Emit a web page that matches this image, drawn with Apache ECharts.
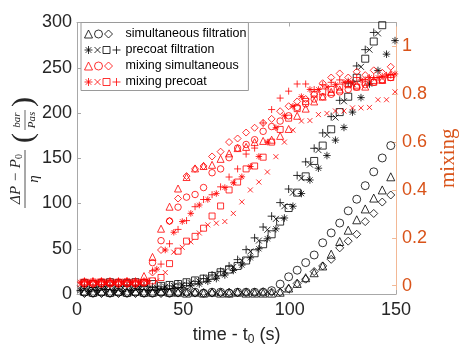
<!DOCTYPE html>
<html>
<head>
<meta charset="utf-8">
<script src="https://cdn.jsdelivr.net/npm/echarts@6/dist/echarts.min.js"></script>
<style>
  html, body { margin: 0; padding: 0; background: #fff; }
  #chart { width: 467px; height: 351px; }
</style>
</head>
<body>
<div id="chart"></div>
<script>
// Sampling times (s) of the two acquisition clocks
const tA = [3.5, 7.5, 11.5, 15.5, 19.5, 23.5, 27.5, 31.5, 35.5, 39.5, 43.5, 47.5, 51.5, 55.5, 59.5,
  63.5, 67.5, 71.5, 75.5, 79.5, 83.5, 87.5, 91.5, 95.5, 99.5, 103.5, 107.5, 111.5, 115.5, 119.5,
  123.5, 127.5, 131.5, 135.5, 139.5, 143.5, 147.5];
const tB = [1.5, 5.5, 9.5, 13.5, 17.5, 21.5, 25.5, 29.5, 33.5, 37.5, 41.5, 45.5, 49.5, 53.5, 57.5,
  61.5, 65.5, 69.5, 73.5, 77.5, 81.5, 85.5, 89.5, 93.5, 97.5, 101.5, 105.5, 109.5, 113.5, 117.5,
  121.5, 125.5, 129.5, 133.5, 137.5, 141.5, 145.5, 149.5];

// Pressure rise (bar/Pas), simultaneous filtration runs (on tA)
const simTri = [3, 2, 3, 2, 3, 2, 3, 2, 2, 3, 2, 2, 1, 2, 1, 2, 1, 1, 2, 1, 1, 1, 1, 2,
  6.6, 11.7, 18, 23.5, 31, 44, 58, 70.5, 82, 94, 106, 115, 129.5];
const simCirc = [2, 1, 2, 1, 2, 1, 2, 1, 1, 2, 1, 2, 2, 2, 1, 2, 2, 1, 2, 2, 2, 2, 3.7, 10.9,
  19, 26.3, 34.7, 43.1, 56.6, 67.5, 78.4, 91.9, 104.7, 119.7, 135, 150.3, 164];
const simDiam = [0.5, 1, 0.5, 1, 0.5, 1, 0.5, 1, 1, 0.5, 1, 1, 1.5, 1, 1.5, 1, 1.5, 2, 1.5, 2,
  2, 2.5, 2, 2, 5.5, 11.7, 16.4, 24.8, 31, 38.3, 51, 58.4, 66, 80, 89, 101.6, 109.4];

// Pressure rise (bar/Pas), precoat filtration runs
const preSq = [12, 11, 12, 13, 12, 12, 13, 12, 11, 9, 10, 11, 13, 15, 17, 20, 24, 27, 31, 37,
  45, 55, 66, 80, 95, 112, 130, 147, 164, 182, 201, 218, 239, 260, 279, 297];             // tA
const prePlus = [8, 7, 8, 9, 8, 9, 8, 9, 8, 8, 9, 11, 12, 14, 17, 21, 25, 31, 38, 49, 62, 74,
  86, 101, 116, 131, 146, 161, 178, 196, 214, 233, 252, 270, 289];                          // tA
const preX = [6, 5, 6, 7, 6, 7, 6, 7, 6, 7, 8, 9, 10, 12, 14, 17, 21, 25, 30, 37, 47, 59, 71,
  83, 97, 112, 128, 143, 159, 176, 195, 213, 232, 251, 270, 288];                           // tB
const preStar = [4, 3, 4, 5, 4, 3, 4, 5, 4, 4, 5, 6, 7, 9, 11, 14, 17, 21, 26, 32, 40, 50, 61,
  72, 84, 97, 111, 126, 139, 153, 170, 184, 201, 217, 232, 247, 265, 280];                  // tB

// Mixing index, simultaneous runs (on tA)
const mixSimTri = [0.017, 0.017, 0.018, 0.017, 0.017, 0.018, 0.017, 0.04, 0.12, 0.238, 0.33,
  0.406, 0.454, 0.49, 0.5, 0.505, 0.53, 0.553, 0.575, 0.58, 0.6, 0.605, 0.61, 0.626, 0.655,
  0.71, 0.74, 0.77, 0.79, 0.81, 0.82, 0.846, 0.84, 0.832, 0.86, 0.86, 0.885];
const mixSimCirc = [0.008, 0.008, 0.009, 0.008, 0.008, 0.009, 0.008, 0.014, 0.096, 0.188, 0.27,
  0.328, 0.37, 0.381, 0.41, 0.472, 0.488, 0.535, 0.575, 0.59, 0.61, 0.645, 0.665, 0.688, 0.71,
  0.745, 0.76, 0.78, 0.79, 0.8, 0.81, 0.82, 0.83, 0.84, 0.85, 0.86, 0.87];
const mixSimDiam = [0.005, 0.006, 0.005, 0.006, 0.005, 0.006, 0.005, 0.01, 0.055, 0.149, 0.27,
  0.364, 0.458, 0.488, 0.5, 0.54, 0.56, 0.6, 0.615, 0.64, 0.66, 0.68, 0.697, 0.729, 0.75,
  0.77, 0.78, 0.8, 0.846, 0.87, 0.887, 0.87, 0.894, 0.88, 0.9, 0.89, 0.915];

// Mixing index, precoat runs
const mixPreSq = [0.015, 0.015, 0.016, 0.015, 0.015, 0.016, 0.015, 0.015, 0.02, 0.034, 0.092,
  0.144, 0.186, 0.206, 0.24, 0.291, 0.333, 0.4, 0.433, 0.488, 0.5, 0.537, 0.6, 0.653, 0.7,
  0.74, 0.77, 0.8, 0.81, 0.82, 0.83, 0.84, 0.83, 0.85, 0.85, 0.86, 0.87];                 // tA
const mixPrePlus = [0.02, 0.021, 0.02, 0.021, 0.02, 0.021, 0.02, 0.02, 0.062, 0.09, 0.175,
  0.235, 0.272, 0.33, 0.36, 0.38, 0.413, 0.454, 0.488, 0.55, 0.575, 0.68, 0.736, 0.784, 0.813,
  0.843, 0.843, 0.82, 0.84, 0.85, 0.86, 0.855, 0.87, 0.86, 0.87, 0.875, 0.88];            // tA
const mixPreStar = [0.015, 0.015, 0.016, 0.015, 0.015, 0.016, 0.015, 0.015, 0.02, 0.069, 0.149,
  0.223, 0.268, 0.302, 0.337, 0.36, 0.385, 0.41, 0.43, 0.455, 0.498, 0.54, 0.6, 0.66, 0.71,
  0.75, 0.79, 0.82, 0.82, 0.83, 0.84, 0.85, 0.85, 0.86, 0.87, 0.87, 0.88, 0.885];         // tB
const mixPreX = [0.005, 0.006, 0.005, 0.006, 0.005, 0.006, 0.005, 0.006, 0.008, 0.02, 0.055,
  0.14, 0.16, 0.183, 0.22, 0.254, 0.261, 0.268, 0.302, 0.35, 0.4, 0.433, 0.475, 0.539, 0.6,
  0.65, 0.688, 0.69, 0.715, 0.72, 0.73, 0.73, 0.743, 0.743, 0.745, 0.777, 0.777, 0.81];   // tB

const mixTicks = [0, 0.2, 0.4, 0.6, 0.8, 1];
const legendNames = ['simultaneous filtration', 'precoat filtration', 'mixing simultaneous', 'mixing precoat'];

// Marker outlines (MATLAB-like '+', 'x', '*')
const PLUS = 'path://M0,5L10,5M5,0L5,10';
const CROSS = 'path://M0,0L10,10M10,0L0,10';
const STAR = 'path://M0,5L10,5M5,0L5,10M1.5,1.5L8.5,8.5M8.5,1.5L1.5,8.5';

// Legend icons: the marker set of each group, side by side
const ICON_SIM = 'path://M0,8L4,0L8,8Z M18,4A4,4 0 1,1 10,4A4,4 0 1,1 18,4Z M24,0L28,4L24,8L20,4Z M36,4';
const ICON_PRE = 'path://M0,4L8,4M4,0L4,8M1.2,1.2L6.8,6.8M6.8,1.2L1.2,6.8 M10,1L16,7M16,1L10,7 M18.5,0.5L25.5,0.5L25.5,7.5L18.5,7.5Z M28,4L36,4M32,0L32,8';

const FONT = 'Liberation Sans';
const SERIF = 'Liberation Serif';
const DARK = '#262626';
const ORANGE = '#D95319';
const AXIS_GRAY = '#a8a8a8';
const AXIS_PEACH = '#f2b895';

function pairs(times, vals) { return vals.map((v, i) => [times[i], v]); }

function markers(name, times, vals, symbol, size, color, yAxisIndex) {
  return {
    type: 'scatter', name, yAxisIndex, symbol, symbolSize: size,
    data: pairs(times, vals), clip: false, silent: true,
    itemStyle: { color: 'none', borderColor: color, borderWidth: 1 }
  };
}

const series = [
  markers(legendNames[0], tA, simTri, 'triangle', 8, '#000', 0),
  markers(legendNames[0], tA, simCirc, 'circle', 8, '#000', 0),
  markers(legendNames[0], tA, simDiam, 'diamond', 8, '#000', 0),
  markers(legendNames[1], tB, preStar, STAR, 7.5, '#000', 0),
  markers(legendNames[1], tB.slice(0, preX.length), preX, CROSS, 6, '#000', 0),
  markers(legendNames[1], tA.slice(0, preSq.length), preSq, 'rect', 7, '#000', 0),
  markers(legendNames[1], tA.slice(0, prePlus.length), prePlus, PLUS, 8, '#000', 0),
  markers(legendNames[2], tA, mixSimTri, 'triangle', 7, '#FF0000', 1),
  markers(legendNames[2], tA, mixSimCirc, 'circle', 6.5, '#FF0000', 1),
  markers(legendNames[2], tA, mixSimDiam, 'diamond', 7, '#FF0000', 1),
  markers(legendNames[3], tB, mixPreStar, STAR, 6.5, '#FF0000', 1),
  markers(legendNames[3], tB, mixPreX, CROSS, 5, '#FF0000', 1),
  markers(legendNames[3], tA, mixPreSq, 'rect', 6, '#FF0000', 1),
  markers(legendNames[3], tA, mixPrePlus, PLUS, 7, '#FF0000', 1)
];

function frameAxis(position, showLabels) {
  return {
    type: 'value', position, min: 0, max: 150, interval: 50,
    axisLine: { show: true, onZero: false, lineStyle: { color: AXIS_GRAY, width: 1 } },
    axisTick: { show: true, inside: true, length: 4, lineStyle: { color: AXIS_GRAY } },
    axisLabel: { show: showLabels, fontFamily: FONT, fontSize: 18, color: DARK, margin: 7 },
    splitLine: { show: false }
  };
}

const xBottom = Object.assign(frameAxis('bottom', true), {
  name: '{a|time - t}{b|0}{a| (s)}',
  nameLocation: 'middle', nameGap: 31,
  nameTextStyle: {
    rich: {
      a: { fontFamily: FONT, fontSize: 18, color: DARK },
      b: { fontFamily: FONT, fontSize: 12, color: DARK, padding: [9, 0, 0, 0] }
    }
  }
});

const chart = echarts.init(document.getElementById('chart'), null, { renderer: 'canvas' });

const option = {
  animation: false,
  backgroundColor: '#fff',
  grid: { left: 77, top: 22.5, width: 335, height: 274.2, containLabel: false },
  legend: {
    orient: 'vertical', left: 81, top: 22.5,
    padding: [5, 2, 2, 1],
    itemWidth: 36, itemHeight: 8, itemGap: 3,
    backgroundColor: '#fff', borderColor: '#9a9a9a', borderWidth: 1,
    textStyle: { fontFamily: FONT, fontSize: 12.5, color: '#000' },
    data: [
      { name: legendNames[0], icon: ICON_SIM, itemStyle: { color: 'none', borderColor: '#000', borderWidth: 1 } },
      { name: legendNames[1], icon: ICON_PRE, itemStyle: { color: 'none', borderColor: '#000', borderWidth: 1 } },
      { name: legendNames[2], icon: ICON_SIM, itemStyle: { color: 'none', borderColor: '#FF0000', borderWidth: 1 } },
      { name: legendNames[3], icon: ICON_PRE, itemStyle: { color: 'none', borderColor: '#FF0000', borderWidth: 1 } }
    ]
  },
  xAxis: [xBottom, frameAxis('top', false)],
  yAxis: [
    {
      type: 'value', position: 'left', min: 0, max: 300, interval: 50,
      axisLine: { show: true, onZero: false, lineStyle: { color: AXIS_GRAY, width: 1 } },
      axisTick: { show: true, inside: true, length: 4, lineStyle: { color: AXIS_GRAY } },
      axisLabel: { fontFamily: FONT, fontSize: 18, color: DARK, margin: 5 },
      splitLine: { show: false }
    },
    {
      type: 'value', position: 'right', min: -0.035, max: 1.1,
      axisLine: { show: true, onZero: false, lineStyle: { color: AXIS_PEACH, width: 1 } },
      axisTick: { show: true, inside: true, length: 4, customValues: mixTicks, lineStyle: { color: AXIS_PEACH } },
      axisLabel: { fontFamily: FONT, fontSize: 18, color: ORANGE, margin: 6, customValues: mixTicks },
      splitLine: { show: false },
      name: 'mixing', nameLocation: 'middle', nameRotate: 90, nameGap: 40,
      nameTextStyle: { fontFamily: SERIF, fontSize: 21, color: ORANGE }
    }
  ],
  graphic: [
    {
      // left axis title: (ΔP − P0)/η  (bar/Pas), set vertically
      type: 'group', x: 25, y: 153, rotation: Math.PI / 2, silent: true,
      children: [
        { type: 'text', x: -26, y: -9, style: {
            text: '{i|ΔP − P}{s|0}', align: 'center', verticalAlign: 'middle',
            rich: {
              i: { fontFamily: SERIF, fontStyle: 'italic', fontSize: 15, fill: DARK },
              s: { fontFamily: SERIF, fontSize: 10, fill: DARK, padding: [6, 0, 0, 0] }
            } } },
        { type: 'line', shape: { x1: -55, y1: 0, x2: 3, y2: 0 }, style: { stroke: DARK, lineWidth: 0.8 } },
        { type: 'text', x: -26, y: 9, style: { text: 'η', align: 'center', verticalAlign: 'middle',
            font: 'italic 15px "Liberation Serif"', fill: DARK } },
        { type: 'text', x: 15, y: -1, style: { text: '(', align: 'center', verticalAlign: 'middle',
            font: '30px "Liberation Serif"', fill: DARK } },
        { type: 'text', x: 33, y: -8, style: { text: 'bar', align: 'center', verticalAlign: 'middle',
            font: 'italic 11px "Liberation Serif"', fill: DARK } },
        { type: 'line', shape: { x1: 23, y1: 0, x2: 43, y2: 0 }, style: { stroke: DARK, lineWidth: 0.7 } },
        { type: 'text', x: 33, y: 7, style: { text: 'Pas', align: 'center', verticalAlign: 'middle',
            font: 'italic 11px "Liberation Serif"', fill: DARK } },
        { type: 'text', x: 51, y: -1, style: { text: ')', align: 'center', verticalAlign: 'middle',
            font: '30px "Liberation Serif"', fill: DARK } }
      ]
    }
  ],
  series
};

chart.setOption(option);
</script>
</body>
</html>
